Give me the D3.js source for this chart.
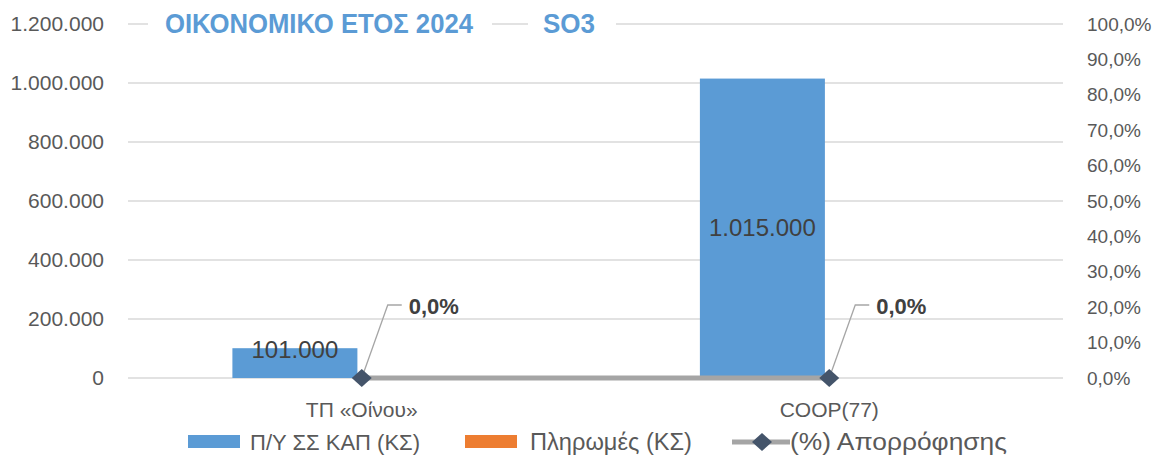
<!DOCTYPE html>
<html>
<head>
<meta charset="utf-8">
<script src="https://cdn.jsdelivr.net/npm/d3@7"></script>
<style>
  body { margin: 0; background: #fff; }
  svg { display: block; font-family: "Liberation Sans", Arial, sans-serif; }
</style>
</head>
<body>
<svg width="1158" height="456"></svg>
<script>
var categories = ["ΤΠ «Οίνου»", "COOP(77)"];
var budget = [101000, 1015000];      // Π/Υ ΣΣ ΚΑΠ (ΚΣ)
var payments = [0, 0];               // Πληρωμές (ΚΣ)
var absorption = [0, 0];             // (%) Απορρόφησης
var leftTicks = [0, 200000, 400000, 600000, 800000, 1000000, 1200000];
var rightTicks = [0, 0.1, 0.2, 0.3, 0.4, 0.5, 0.6, 0.7, 0.8, 0.9, 1.0];
var seriesNames = ["Π/Υ ΣΣ ΚΑΠ (ΚΣ)", "Πληρωμές (ΚΣ)", "(%) Απορρόφησης"];

var BLUE = "#5b9bd5", ORANGE = "#ed7d31", LINEGRAY = "#a5a5a5", MARK = "#44546a", TXT = "#595959";

var svg = d3.select("svg");
var width = 1158, height = 456;
var margin = {left: 128, right: 95, top: 24, bottom: 78};

var gr = d3.formatLocale({decimal: ",", thousands: ".", grouping: [3], currency: ["", "€"]});
var fmtNum = gr.format(",.0f");
var fmtPct = gr.format(",.1%");

var x0 = d3.scaleBand().domain(categories).range([margin.left, width - margin.right]);
var x1 = d3.scaleBand().domain(["budget", "payments"]).range([0, x0.bandwidth()])
    .paddingOuter(0.87).paddingInner(0).align(0.48);
var y = d3.scaleLinear().domain([0, 1200000]).range([height - margin.bottom, margin.top]);
var y2 = d3.scaleLinear().domain([0, 1]).range([height - margin.bottom, margin.top]);

svg.append("rect").attr("width", width).attr("height", height).attr("fill", "#fff");

// gridlines
svg.append("g")
    .selectAll("line")
    .data(leftTicks)
    .enter().append("line")
    .attr("x1", margin.left).attr("x2", width - margin.right)
    .attr("y1", function (d) { return y(d); })
    .attr("y2", function (d) { return y(d); })
    .attr("stroke", "#d9d9d9")
    .attr("stroke-width", 1.5);

// left axis
var gl = svg.append("g")
    .attr("transform", "translate(" + (margin.left - 24) + ",0)")
    .call(d3.axisLeft(y).tickValues(leftTicks).tickFormat(fmtNum).tickSize(0).tickPadding(0));
gl.select(".domain").remove();
gl.selectAll("text").attr("font-size", 21).attr("fill", TXT).attr("font-family", null);

// right axis
var gR = svg.append("g")
    .attr("transform", "translate(" + (width - margin.right + 24) + ",0)")
    .call(d3.axisRight(y2).tickValues(rightTicks).tickFormat(fmtPct).tickSize(0).tickPadding(0));
gR.select(".domain").remove();
gR.selectAll("text").attr("font-size", 19).attr("fill", TXT).attr("font-family", null);

// category labels
svg.append("g")
    .selectAll("text")
    .data(categories)
    .enter().append("text")
    .attr("x", function (d) { return x0(d) + x0.bandwidth() / 2; })
    .attr("y", y(0) + 39)
    .attr("text-anchor", "middle")
    .attr("font-size", 21)
    .attr("fill", TXT)
    .text(function (d) { return d; });

// bars
var rows = categories.map(function (c, i) {
    return {cat: c, budget: budget[i], payments: payments[i], absorption: absorption[i]};
});

var groups = svg.append("g")
    .selectAll("g")
    .data(rows)
    .enter().append("g")
    .attr("transform", function (d) { return "translate(" + x0(d.cat) + ",0)"; });

groups.append("rect")
    .attr("x", x1("budget"))
    .attr("width", x1.bandwidth())
    .attr("y", function (d) { return y(d.budget); })
    .attr("height", function (d) { return y(0) - y(d.budget); })
    .attr("fill", BLUE);

groups.append("rect")
    .attr("x", x1("payments"))
    .attr("width", x1.bandwidth())
    .attr("y", function (d) { return y(d.payments); })
    .attr("height", function (d) { return y(0) - y(d.payments); })
    .attr("fill", ORANGE);

groups.append("text")
    .attr("x", x1("budget") + x1.bandwidth() / 2)
    .attr("y", function (d) { return Math.min((y(d.budget) + y(0)) / 2, y(0) - 28) + 8; })
    .attr("text-anchor", "middle")
    .attr("font-size", 24)
    .attr("fill", "#404040")
    .text(function (d) { return fmtNum(d.budget); });

// absorption line
var cx = function (d) { return x0(d.cat) + x0.bandwidth() / 2; };
var line = d3.line().x(cx).y(function (d) { return y2(d.absorption); });

svg.append("path")
    .datum(rows)
    .attr("d", line)
    .attr("fill", "none")
    .attr("stroke", LINEGRAY)
    .attr("stroke-width", 5);

var pts = svg.append("g")
    .selectAll("g")
    .data(rows)
    .enter().append("g")
    .attr("transform", function (d) { return "translate(" + cx(d) + "," + y2(d.absorption) + ")"; });

pts.append("polyline")
    .attr("points", "0,0 26,-73 40,-73")
    .attr("fill", "none")
    .attr("stroke", "#a6a6a6")
    .attr("stroke-width", 1.3);

pts.append("path")
    .attr("d", "M0,-9L10,0L0,9L-10,0Z")
    .attr("fill", MARK);

pts.append("text")
    .attr("x", 47)
    .attr("y", -64)
    .attr("font-size", 22)
    .attr("font-weight", "bold")
    .attr("fill", "#404040")
    .text(function (d) { return fmtPct(d.absorption); });

// title boxes
svg.append("rect").attr("x", 148).attr("y", 4).attr("width", 344).attr("height", 40).attr("fill", "#fff");
svg.append("rect").attr("x", 528).attr("y", 4).attr("width", 88).attr("height", 40).attr("fill", "#fff");
svg.append("text")
    .attr("x", 165).attr("y", 33)
    .attr("font-size", 27).attr("font-weight", "bold")
    .attr("fill", BLUE)
    .attr("textLength", 308).attr("lengthAdjust", "spacingAndGlyphs")
    .text("ΟΙΚΟΝΟΜΙΚΟ ΕΤΟΣ 2024");
svg.append("text")
    .attr("x", 543).attr("y", 33)
    .attr("font-size", 27).attr("font-weight", "bold")
    .attr("fill", BLUE)
    .attr("textLength", 52).attr("lengthAdjust", "spacingAndGlyphs")
    .text("SO3");

// legend
var legY = 442;
var legend = svg.append("g");
legend.append("rect").attr("x", 188).attr("y", legY - 7).attr("width", 52).attr("height", 13).attr("fill", BLUE);
legend.append("text").attr("x", 250).attr("y", legY + 8).attr("font-size", 22).attr("fill", TXT)
    .attr("textLength", 170).attr("lengthAdjust", "spacingAndGlyphs").text(seriesNames[0]);
legend.append("rect").attr("x", 465).attr("y", legY - 7).attr("width", 52).attr("height", 13).attr("fill", ORANGE);
legend.append("text").attr("x", 530).attr("y", legY + 8).attr("font-size", 23).attr("fill", TXT)
    .attr("textLength", 162).attr("lengthAdjust", "spacingAndGlyphs").text(seriesNames[1]);
legend.append("line").attr("x1", 732).attr("x2", 790).attr("y1", legY).attr("y2", legY)
    .attr("stroke", LINEGRAY).attr("stroke-width", 5);
legend.append("path").attr("transform", "translate(762," + legY + ")")
    .attr("d", "M0,-9L10,0L0,9L-10,0Z").attr("fill", MARK);
legend.append("text").attr("x", 790).attr("y", legY + 8).attr("font-size", 23).attr("fill", TXT)
    .attr("textLength", 217).attr("lengthAdjust", "spacingAndGlyphs").text(seriesNames[2]);
</script>
</body>
</html>
